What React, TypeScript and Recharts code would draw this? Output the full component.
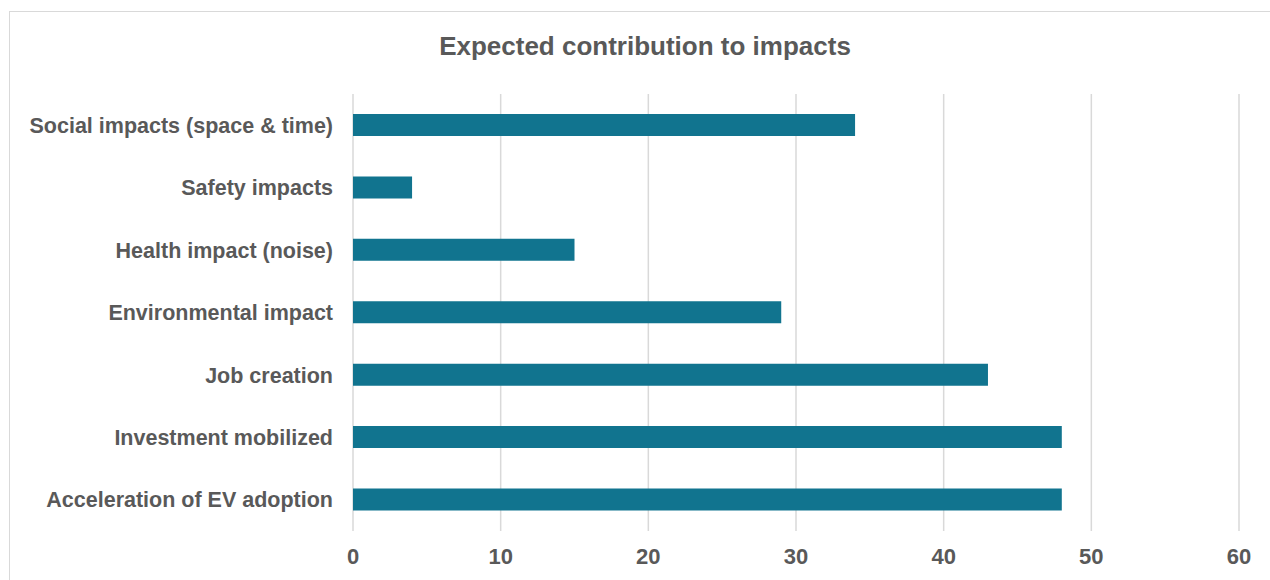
import React from 'react';
import { BarChart, Bar, XAxis, YAxis, CartesianGrid } from 'recharts';

const categories = [
  'Social impacts (space & time)',
  'Safety impacts',
  'Health impact (noise)',
  'Environmental impact',
  'Job creation',
  'Investment mobilized',
  'Acceleration of EV adoption',
];
const contribution = [34, 4, 15, 29, 43, 48, 48];
const xTicks = [0, 10, 20, 30, 40, 50, 60];

const data = categories.map((name, i) => ({ name, value: contribution[i] }));

const FONT = '"Liberation Sans", Arial, sans-serif';
const TEXT = '#595959';

const App: React.FC = () => {
  return (
    <div style={{ position: 'absolute', left: 0, top: 0, width: 1270, height: 580, background: '#fff', overflow: 'hidden', fontFamily: FONT }}>
      {/* chart frame */}
      <div style={{ position: 'absolute', left: 9, top: 11, width: 1300, height: 640, border: '1.5px solid #d9d9d9' }} />
      <div style={{ position: 'absolute', left: 0, top: 31, width: 1290, textAlign: 'center', fontSize: 26, fontWeight: 700, color: TEXT }}>
        Expected contribution to impacts
      </div>
      <div style={{ position: 'absolute', left: 0, top: 0 }}>
        <BarChart
          width={1270}
          height={580}
          data={data}
          layout="vertical"
          margin={{ top: 94, right: 31, bottom: 0, left: 0 }}
          barCategoryGap="32%"
        >
          <CartesianGrid horizontal={false} stroke="#d9d9d9" strokeWidth={1.5} />
          <XAxis
            type="number"
            domain={[0, 60]}
            ticks={xTicks}
            axisLine={false}
            tickLine={false}
            tickSize={0}
            tickMargin={17}
            height={49}
            tick={{ fill: TEXT, fontSize: 22, fontWeight: 700, fontFamily: FONT }}
          />
          <YAxis
            type="category"
            dataKey="name"
            width={353}
            axisLine={false}
            tickLine={false}
            tickSize={0}
            tickMargin={20}
            interval={0}
            tick={{ fill: TEXT, fontSize: 21.5, fontWeight: 700, fontFamily: FONT }}
          />
          <Bar dataKey="value" fill="#11748f" isAnimationActive={false} />
        </BarChart>
      </div>
    </div>
  );
};

export default App;
